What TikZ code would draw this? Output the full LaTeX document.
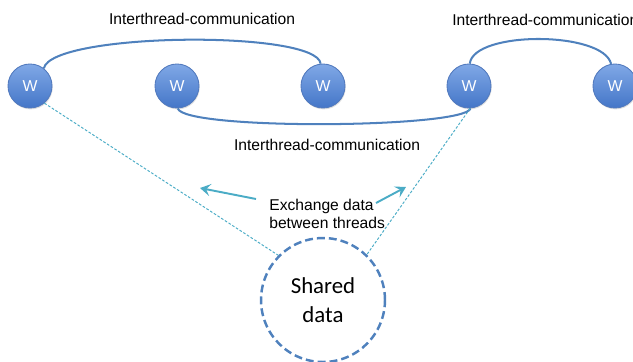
\documentclass[tikz,border=0pt]{standalone}
\usepackage{fontspec}
\setmainfont{Liberation Sans}
\newfontfamily\calibrilike{Carlito}
\usetikzlibrary{shadows,arrows.meta}
\definecolor{arcblue}{RGB}{79,129,189}
\definecolor{wtop}{RGB}{128,168,230}
\definecolor{wbot}{RGB}{68,118,200}
\definecolor{wline}{RGB}{82,122,190}
\definecolor{tealline}{RGB}{75,172,198}
\tikzset{
  worker/.style={circle, minimum size=0.88cm, inner sep=0pt, draw=wline, line width=0.5pt,
    top color=wtop, bottom color=wbot, text=white,
    font=\fontsize{9}{10}\selectfont,
    drop shadow={opacity=0.25, shadow xshift=0.4pt, shadow yshift=-0.8pt}},
  link/.style={draw=arcblue, line width=1.15pt},
  lbl/.style={font=\fontsize{8.9}{10.5}\selectfont, inner sep=0pt},
  share/.style={draw=tealline, line width=0.55pt, dash pattern=on 1.5pt off 1pt},
  pointer/.style={draw=tealline, line width=1.1pt, -{Stealth[length=6pt,width=7pt,inset=2.5pt]}},
  pool/.style={circle, minimum size=2.48cm, inner sep=0pt, draw=arcblue, line width=1.4pt,
    dash pattern=on 4.5pt off 2.3pt, align=center,
    font=\calibrilike\fontsize{13}{16.5}\selectfont}
}
\begin{document}
\begin{tikzpicture}[x=0.02cm, y=-0.02cm]
\useasboundingbox (0,0) rectangle (633,362);

% worker threads
\node[worker] (w1) at (30,86) {W};
\node[worker] (w2) at (177,86) {W};
\node[worker] (w3) at (323,86) {W};
\node[worker] (w4) at (469,86) {W};
\node[worker] (w5) at (615,86) {W};

% shared data pool
\node[pool] (sd) at (323,300) {Shared\\data};

% communication links
\draw[link] (w1.52) .. controls +(8,-36) and +(-4,-34) .. (w3.96);
\draw[link] (w2.-88) .. controls +(6,22) and +(-6,20) .. (w4.-86);
\draw[link] (w4.88) .. controls +(4,-33) and +(-8,-33) .. (w5.100);

\node[lbl] (l1) at (202,19) {Interthread-communication};
\node[lbl] (l2) at (327,145) {Interthread-communication};
\node[lbl, anchor=west] (l3) at (452,20) {Interthread-communication};

% access to shared data
\draw[share] (w1.-50) -- (sd.135);
\draw[share] (w4.-87) -- (sd.46);

% exchange note and pointers
\node[lbl, anchor=west, align=left] (ex) at (269,214) {Exchange data\\between threads};
\coordinate (a1s) at (256,199);
\coordinate (a1e) at (200,188);
\coordinate (a2s) at (376,203);
\coordinate (a2e) at (406,187);
\draw[pointer] (a1s) -- (a1e);
\draw[pointer] (a2s) -- (a2e);
\end{tikzpicture}
\end{document}
